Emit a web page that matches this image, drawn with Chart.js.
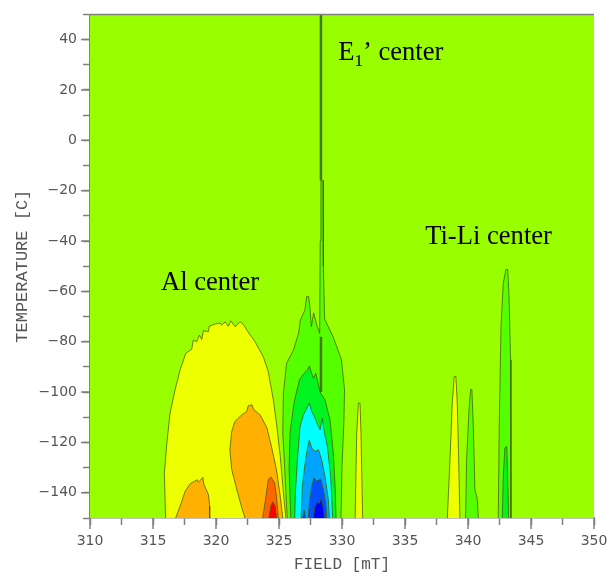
<!DOCTYPE html>
<html lang="en">
<head>
  <meta charset="UTF-8" />
  <title>Field vs temperature contour</title>
  <script src="https://cdn.jsdelivr.net/npm/chart.js"></script>
  <style>
    html, body { margin: 0; background: #fff; }
    canvas { display: block; filter: blur(0.35px); }
  </style>
</head>
<body>
  <canvas id="chart" width="608" height="574"></canvas>

  <script>
    // contour outlines: field [mT] and temperature [C]
    const alYellowField = [316.0,315.9,316.1,316.35,316.75,317.15,317.6,318.07,318.2,318.47,318.68,318.87,319,319.4,319.47,319.92,320.32,320.45,320.72,320.98,321.17,321.51,321.91,322.17,322.45,323.1,323.75,324.15,324.55,324.8,325.1,325.4,325.55];
    const alYellowTemp = [-150,-132.1,-120.3,-108.4,-99.1,-91.2,-84.6,-83,-79.3,-80,-77.4,-79.1,-75.6,-76,-73.8,-73,-72.5,-73.4,-72.1,-73.8,-71.7,-74,-72.1,-73,-75.4,-80,-85.9,-91.9,-103.1,-112.3,-125.5,-142.7,-150];

    const alOrangeLeftField = [316.8,317.15,317.55,317.95,318.5,318.6,318.95,319.05,319.4,319.5,319.5];
    const alOrangeLeftTemp = [-150,-145.3,-139.4,-136.4,-134.8,-135.8,-133.9,-136.8,-140.7,-145.3,-150];

    const alOrangeMidField = [322.3,322.05,321.65,321.25,321.1,321.25,321.5,322.05,322.45,322.55,322.85,323,323.5,324.05,324.4,324.8,325.1,325.3];
    const alOrangeMidTemp = [-150,-146,-138.7,-130.8,-122.9,-115.6,-111.7,-109,-107.7,-105.5,-105,-107,-109,-114.3,-121.6,-130.8,-141.4,-150];

    const alDeepOrangeField = [323.7,323.97,324.15,324.35,324.65,324.8,324.95];
    const alDeepOrangeTemp = [-150,-141.4,-134.8,-133.7,-136.1,-141.4,-150];

    const alRedField = [324.2,324.35,324.5,324.7,324.8];
    const alRedTemp = [-150,-145.3,-143.6,-145.3,-150];

    const e1LobeField = [325.65,325.4,325.3,325.35,325.6,326.15,326.55,326.7,327.05,327.2,327.35,327.45,327.57,327.75,328.0,328.23,328.27,328.33,328.5,328.52,328.62,329.29,329.95,330.2,330.15,330.0,329.92];
    const e1LobeTemp = [-150,-125,-116.3,-100.5,-88.6,-83.3,-76.7,-71.4,-67.5,-62,-62,-66.1,-74,-68.5,-73.4,-76.7,-40,-16,-16,-50,-71,-78,-87,-99,-112,-129.5,-150];

    const e1GreenField = [325.93,325.8,325.88,326.2,326.62,326.94,327.28,327.41,327.55,327.73,327.92,328.13,328.31,328.65,329.05,329.31,329.45,329.53];
    const e1GreenTemp = [-150,-130,-115.8,-104,-95.2,-92.8,-91.2,-89.6,-91.9,-94.5,-92.5,-97.2,-100.5,-103.1,-111,-124.2,-137.4,-150];

    const e1CyanField = [326.25,326.3,326.46,326.67,326.94,327.2,327.41,327.6,327.86,328.13,328.26,328.44,328.58,328.84,329.1,329.26];
    const e1CyanTemp = [-150,-140,-126.9,-113.7,-109,-106.4,-104.4,-107.7,-110.4,-113.7,-115,-110.4,-115.6,-121.6,-133.5,-150];

    const e1SkyField = [326.75,326.85,327.07,327.28,327.41,327.6,327.86,328.13,328.39,328.65,328.92,329.0];
    const e1SkyTemp = [-150,-137.4,-128.2,-121.6,-119,-122.2,-123.6,-122.9,-126.9,-133.5,-142.7,-150];

    const e1BlueField = [327.33,327.41,327.6,327.78,328,328.31,328.52,328.71,328.79];
    const e1BlueTemp = [-150,-144,-137.4,-134.1,-135.4,-134.5,-138.7,-144,-150];

    const e1BlueTipField = [326.88,326.99,327.12];
    const e1BlueTipTemp = [-150,-146.9,-150];

    const e1NavyField = [327.73,327.86,328.07,328.2,328.34,328.52,328.6];
    const e1NavyTemp = [-150,-145.3,-143.6,-144.3,-142.3,-146,-150];

    const peak331Field = [331.04,331.17,331.3,331.43,331.51,331.64];
    const peak331Temp = [-150,-116.3,-104.4,-104.4,-116.3,-150];

    const peak339Field = [338.36,338.57,338.75,338.91,339.04,339.15,339.26,339.36];
    const peak339Temp = [-150,-126.8,-104.4,-93.8,-93.8,-104.4,-126.8,-150];

    const peak340Field = [339.81,339.89,340.08,340.21,340.31,340.42,340.55,340.74,340.82];
    const peak340Temp = [-150,-126.8,-107,-99,-99,-113.6,-138.7,-142.6,-150];

    const peak343Field = [342.4,342.48,342.62,342.8,343.01,343.15,343.25,343.38,343.41];
    const peak343Temp = [-150,-113.6,-74,-56.8,-51.3,-51.3,-60.8,-87.2,-150];

    const peak343InnerField = [342.72,342.8,342.93,343.07,343.15,343.22];
    const peak343InnerTemp = [-150,-133.4,-122.2,-121.5,-133.4,-150];

    const e1LineField = [328.33,328.33];
    const e1LineTemp = [50,-16];
    const e1LineLowField = [328.33,328.33];
    const e1LineLowTemp = [-78,-100];

    const labelTexts = ['Al center', 'Ti-Li center'];
    const labelFields = [315.63, 336.6];
    const labelTemps = [-59.5, -41.3];

    // painted back to front
    const contours = [
      [alYellowField, alYellowTemp, '#eeff00'],
      [alOrangeLeftField, alOrangeLeftTemp, '#ffb000'],
      [alOrangeMidField, alOrangeMidTemp, '#ffb000'],
      [alDeepOrangeField, alDeepOrangeTemp, '#ff6600'],
      [alRedField, alRedTemp, '#ff0000'],
      [e1LobeField, e1LobeTemp, '#55ff00'],
      [e1GreenField, e1GreenTemp, '#00f520'],
      [e1CyanField, e1CyanTemp, '#00ffff'],
      [e1SkyField, e1SkyTemp, '#00a4ff'],
      [e1BlueField, e1BlueTemp, '#0050ff'],
      [e1BlueTipField, e1BlueTipTemp, '#0050ff'],
      [e1NavyField, e1NavyTemp, '#0000ff'],
      [peak331Field, peak331Temp, '#eeff00'],
      [peak339Field, peak339Temp, '#eeff00'],
      [peak340Field, peak340Temp, '#55ff00'],
      [peak343Field, peak343Temp, '#55ff00'],
      [peak343InnerField, peak343InnerTemp, '#00f520']
    ];

    const toPoints = (xs, ys) => xs.map((x, i) => ({ x, y: ys[i] }));
    const axisGray = '#808080';
    const textGray = '#555555';

    const datasets = contours.map(([xs, ys, color], i) => ({
      data: toPoints(xs, ys),
      showLine: true,
      fill: false,
      tension: 0,
      pointRadius: 0,
      borderWidth: 1,
      borderColor: 'rgba(70,90,0,0.75)',
      backgroundColor: color,
      polygon: true,
      order: contours.length - i + 2
    }));
    [[e1LineField, e1LineTemp], [e1LineLowField, e1LineLowTemp]].forEach(([xs, ys]) => {
      datasets.push({
        data: toPoints(xs, ys),
        showLine: true,
        fill: false,
        pointRadius: 0,
        borderWidth: 2.5,
        borderColor: '#3f7d0a',
        order: 0
      });
    });

    // Chart.js line fill clips to the first/last x, the contours bulge past that
    const contourFill = {
      id: 'contourFill',
      beforeDatasetsDraw(chart) {
        const { ctx, chartArea: a } = chart;
        ctx.save();
        ctx.fillStyle = '#99ff00';
        ctx.fillRect(a.left, a.top, a.right - a.left, a.bottom - a.top);
        ctx.restore();
      },
      beforeDatasetDraw(chart, args) {
        const ds = chart.data.datasets[args.index];
        if (!ds.polygon) return;
        const { ctx, chartArea: a } = chart;
        ctx.save();
        ctx.beginPath();
        ctx.rect(a.left, a.top, a.right - a.left, a.bottom - a.top);
        ctx.clip();
        ctx.beginPath();
        args.meta.data.forEach((p, i) => i ? ctx.lineTo(p.x, p.y) : ctx.moveTo(p.x, p.y));
        ctx.closePath();
        ctx.fillStyle = ds.backgroundColor;
        ctx.fill();
        ctx.restore();
      }
    };

    const extras = {
      id: 'extras',
      afterDraw(chart) {
        const { ctx, chartArea: a, scales: { x, y } } = chart;
        ctx.save();
        // top frame line and the longer major ticks
        ctx.strokeStyle = axisGray;
        ctx.lineWidth = 1.5;
        ctx.beginPath();
        ctx.moveTo(a.left, a.top);
        ctx.lineTo(a.right, a.top);
        x.ticks.forEach(t => {
          if (t.value % 5 === 0) {
            const px = x.getPixelForValue(t.value);
            ctx.moveTo(px, a.bottom);
            ctx.lineTo(px, a.bottom + 11);
          }
        });
        y.ticks.forEach(t => {
          if (t.value % 20 === 0) {
            const py = y.getPixelForValue(t.value);
            ctx.moveTo(a.left, py);
            ctx.lineTo(a.left - 9, py);
          }
        });
        ctx.stroke();

        // annotations
        ctx.fillStyle = '#000';
        ctx.textBaseline = 'alphabetic';
        ctx.textAlign = 'left';
        ctx.font = '26.6px "Liberation Serif"';
        labelTexts.forEach((s, i) => {
          ctx.fillText(s, x.getPixelForValue(labelFields[i]), y.getPixelForValue(labelTemps[i]));
        });
        let px = x.getPixelForValue(329.7);
        const py = y.getPixelForValue(32);
        ctx.fillText('E', px, py);
        px += ctx.measureText('E').width;
        ctx.font = '17px "Liberation Serif"';
        ctx.fillText('1', px, py + 6);
        px += ctx.measureText('1').width;
        ctx.font = '26.6px "Liberation Serif"';
        ctx.fillText('’ center', px, py);
        ctx.restore();
      }
    };

    new Chart(document.getElementById('chart'), {
      type: 'scatter',
      data: { datasets },
      plugins: [contourFill, extras],
      options: {
        responsive: false,
        animation: false,
        layout: { padding: { top: 14, right: 0, left: 0, bottom: 0 } },
        plugins: { legend: { display: false }, tooltip: { enabled: false } },
        scales: {
          x: {
            type: 'linear',
            min: 310,
            max: 350,
            // the fixed frame: tick label padding would otherwise push the right edge in
            afterFit(scale) { scale.height = 56; scale.paddingRight = 14; scale.paddingLeft = 0; },
            border: { color: axisGray, width: 1.5 },
            grid: { drawOnChartArea: false, tickLength: 7, tickColor: axisGray, tickWidth: 1.5 },
            ticks: {
              stepSize: 2.5,
              maxRotation: 0,
              autoSkip: false,
              color: textGray,
              padding: 8,
              font: { family: '"DejaVu Sans"', size: 14 },
              callback: v => (v % 5 === 0 ? String(v) : '')
            },
            title: {
              display: true,
              text: 'FIELD [mT]',
              color: textGray,
              padding: { top: 0, bottom: 0 },
              font: { family: '"Liberation Mono"', size: 16 }
            }
          },
          y: {
            min: -150,
            max: 50,
            afterFit(scale) { scale.width = 90; },
            border: { color: axisGray, width: 1.5 },
            grid: { drawOnChartArea: false, tickLength: 7, tickColor: axisGray, tickWidth: 1.5 },
            ticks: {
              stepSize: 10,
              autoSkip: false,
              color: textGray,
              padding: 6,
              font: { family: '"DejaVu Sans"', size: 14 },
              callback: v => {
                if (v % 20 !== 0 || v === 50) return '';
                return v < 0 ? '\u2212' + Math.abs(v) : String(v);
              }
            },
            title: {
              display: true,
              text: 'TEMPERATURE [C]',
              color: textGray,
              padding: { top: 12, bottom: 0 },
              font: { family: '"Liberation Mono"', size: 17 }
            }
          }
        }
      }
    });
  </script>
</body>
</html>
